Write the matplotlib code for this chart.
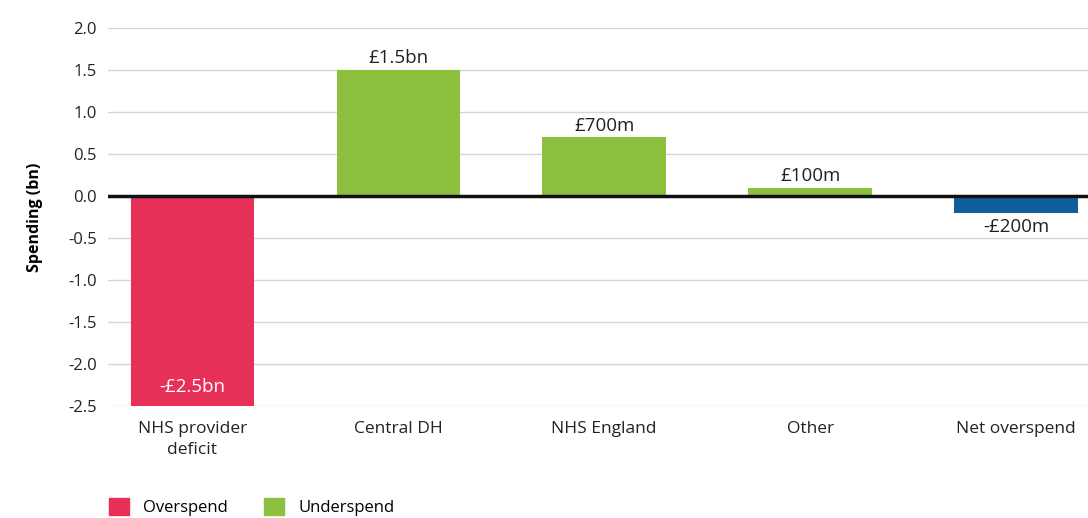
import numpy as np
import matplotlib.pyplot as plt
from matplotlib.patches import Patch

plt.rcParams['font.family'] = ['Open Sans', 'DejaVu Sans']

categories = ['NHS provider\ndeficit', 'Central DH', 'NHS England', 'Other', 'Net overspend']
values = [-2.5, 1.5, 0.7, 0.1, -0.2]
value_labels = ['-£2.5bn', '£1.5bn', '£700m', '£100m', '-£200m']
bar_colors = ['#e63057', '#8dc03f', '#8dc03f', '#8dc03f', '#105e9c']

fig = plt.figure(figsize=(10.88, 5.18), dpi=100)
ax = fig.add_axes([0.0993, 0.216, 0.9007, 0.73])

x = np.arange(len(categories))
bars = ax.bar(x, values, width=0.6, color=bar_colors, zorder=2)

ax.set_ylim(-2.5, 2.0)
ax.set_xlim(-0.41, 4.35)
ax.set_yticks(np.arange(-2.5, 2.01, 0.5))
ax.set_yticklabels([f'{v:.1f}' for v in np.arange(-2.5, 2.01, 0.5)], fontsize=12, color='#222222')
ax.set_xticks(x)
ax.set_xticklabels(categories, fontsize=12.5, color='#222222', linespacing=1.4)
ax.tick_params(axis='both', length=0, pad=8)
ax.tick_params(axis='x', pad=11)
ax.yaxis.grid(True, color='#d6d6d6', linewidth=1, zorder=0)
ax.axhline(0, color='#111111', linewidth=2.5, zorder=3)
for s in ax.spines.values():
    s.set_visible(False)

ax.set_ylabel('Spending (bn)', fontsize=11.5, fontweight='bold', labelpad=18)

for i, (v, lab) in enumerate(zip(values, value_labels)):
    if i == 0:
        ax.text(x[i], v + 0.12, lab, ha='center', va='bottom', color='white', fontsize=13.5)
    elif v >= 0:
        ax.text(x[i], v + 0.03, lab, ha='center', va='bottom', color='#222222', fontsize=13.5)
    else:
        ax.text(x[i], v - 0.06, lab, ha='center', va='top', color='#222222', fontsize=13.5)

handles = [Patch(color='#e63057', label='Overspend'), Patch(color='#8dc03f', label='Underspend')]
fig.legend(handles=handles, loc='lower left', bbox_to_anchor=(0.086, -0.026), ncol=2, frameon=False,
           fontsize=12, handlelength=1.2, handleheight=1.2, columnspacing=2.2, handletextpad=0.85)

fig.savefig('out.png', dpi=100)
